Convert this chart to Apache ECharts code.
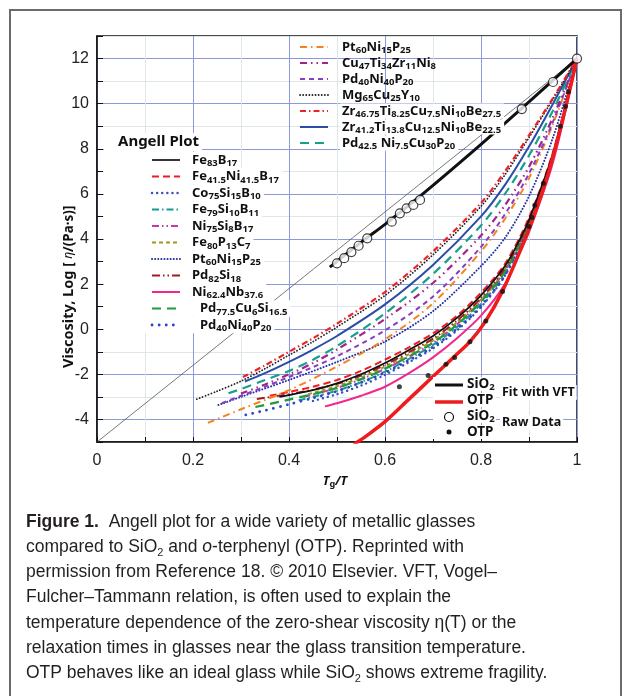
<!DOCTYPE html>
<html><head><meta charset="utf-8">
<script src="https://cdn.jsdelivr.net/npm/echarts@6/dist/echarts.min.js"></script>
<style>html,body{margin:0;padding:0;background:#fff;}#c{width:630px;height:696px;}</style>
</head><body><div id="c"></div>
<script>
// ---------- tick labels ----------
const xTickLabels = ['0','0.2','0.4','0.6','0.8','1'];
const yTickLabels = ['-4','-2','0','2','4','6','8','10','12'];

// ---------- data (x = Tg/T, y = log viscosity) ----------
const arrhenius = [[0,-5],[1,12]];
// lower (fragile) group
const fe83b17 = [[0.38,-3.0],[0.45,-2.7],[0.5,-2.4],[0.55,-2.0],[0.6,-1.5],[0.65,-0.92],[0.7,-0.3],[0.75,0.5],[0.8,1.5],[0.85,2.8],[0.88,3.95],[0.9,4.85],[0.95,7.8],[1,12]];
const fe415 = [[0.36,-2.95],[0.4,-2.78],[0.45,-2.55],[0.5,-2.25],[0.55,-1.85],[0.6,-1.35],[0.65,-0.8],[0.7,-0.18],[0.75,0.6],[0.8,1.62],[0.85,2.9],[0.9,4.95],[0.95,7.85],[1,12]];
const co75 = [[0.45,-3.18],[0.5,-2.88],[0.55,-2.5],[0.6,-2.02],[0.65,-1.46],[0.7,-0.85],[0.75,-0.05],[0.8,0.98],[0.85,2.38],[0.9,4.56],[0.95,7.6],[1,12]];
const fe79 = [[0.42,-3.15],[0.45,-3.0],[0.5,-2.72],[0.55,-2.35],[0.6,-1.88],[0.65,-1.32],[0.7,-0.7],[0.75,0.1],[0.8,1.12],[0.85,2.48],[0.9,4.62],[0.95,7.66],[1,12]];
const ni75 = [[0.43,-3.0],[0.45,-2.9],[0.5,-2.6],[0.55,-2.22],[0.6,-1.76],[0.65,-1.22],[0.7,-0.6],[0.75,0.22],[0.8,1.25],[0.85,2.6],[0.9,4.72],[0.95,7.72],[1,12]];
const fe80 = [[0.44,-2.88],[0.5,-2.52],[0.55,-2.14],[0.6,-1.66],[0.65,-1.1],[0.7,-0.5],[0.75,0.3],[0.8,1.32],[0.85,2.66],[0.9,4.76],[0.95,7.76],[1,12]];
const pd82 = [[0.333,-3.09],[0.4,-2.88],[0.45,-2.68],[0.5,-2.42],[0.55,-2.05],[0.6,-1.58],[0.65,-1.02],[0.7,-0.42],[0.75,0.38],[0.8,1.38],[0.85,2.7],[0.9,4.78],[0.95,7.75],[1,12]];
const ni624 = [[0.475,-3.42],[0.5,-3.28],[0.55,-2.95],[0.6,-2.55],[0.65,-1.95],[0.7,-1.25],[0.75,-0.4],[0.8,0.6],[0.85,2.0],[0.88,3.35],[0.9,4.3],[0.95,7.4],[1,12]];
const pd775 = [[0.33,-3.45],[0.4,-3.12],[0.45,-2.88],[0.5,-2.6],[0.55,-2.22],[0.6,-1.75],[0.65,-1.2],[0.7,-0.6],[0.75,0.2],[0.8,1.22],[0.85,2.55],[0.9,4.68],[0.95,7.7],[1,12]];
const pd40a = [[0.31,-3.8],[0.35,-3.6],[0.4,-3.33],[0.45,-3.05],[0.5,-2.75],[0.55,-2.37],[0.6,-1.92],[0.65,-1.38],[0.7,-0.78],[0.75,0.02],[0.8,1.02],[0.85,2.4],[0.9,4.58],[0.95,7.62],[1,12]];
// middle group
const pt60a = [[0.253,-3.36],[0.3,-3.0],[0.4,-2.25],[0.5,-1.45],[0.6,-0.55],[0.7,0.8],[0.8,2.8],[0.85,4.05],[0.9,5.9],[0.95,8.5],[1,12]];
const pt60t = [[0.231,-4.15],[0.3,-3.55],[0.4,-2.7],[0.5,-1.65],[0.6,-0.45],[0.7,1.15],[0.8,3.45],[0.85,4.9],[0.9,6.7],[0.95,9.1],[1,12]];
const pd40t = [[0.26,-3.28],[0.3,-2.95],[0.35,-2.55],[0.4,-2.12],[0.45,-1.68],[0.5,-1.2],[0.6,-0.05],[0.7,1.45],[0.8,3.65],[0.85,5.1],[0.9,6.9],[0.95,9.2],[1,12]];
const cu47 = [[0.3,-2.85],[0.35,-2.45],[0.4,-2.0],[0.45,-1.5],[0.5,-0.9],[0.6,0.45],[0.7,2.05],[0.8,4.15],[0.85,5.5],[0.9,7.2],[0.95,9.4],[1,12]];
// upper (strong) group
const pd425 = [[0.274,-2.84],[0.3,-2.65],[0.35,-2.25],[0.4,-1.85],[0.45,-1.35],[0.5,-0.75],[0.6,0.7],[0.7,2.45],[0.8,4.6],[0.85,6.0],[0.9,7.7],[0.95,9.7],[1,12]];
const zr412 = [[0.308,-2.32],[0.35,-1.95],[0.4,-1.45],[0.45,-0.9],[0.5,-0.3],[0.6,1.1],[0.7,2.85],[0.8,5.0],[0.85,6.4],[0.9,8.1],[0.95,10.0],[1,12]];
const mg65 = [[0.208,-3.1],[0.25,-2.75],[0.3,-2.3],[0.35,-1.75],[0.4,-1.15],[0.45,-0.55],[0.5,0.1],[0.6,1.5],[0.7,3.3],[0.8,5.45],[0.85,6.85],[0.9,8.5],[0.95,10.2],[1,12]];
const zr4675 = [[0.304,-2.12],[0.35,-1.6],[0.4,-1.0],[0.45,-0.4],[0.5,0.25],[0.6,1.65],[0.7,3.45],[0.8,5.6],[0.85,7.0],[0.9,8.6],[0.95,10.25],[1,12]];
// reference liquids
const sio2Fit = [[0.485,2.75],[0.55,3.85],[0.6,4.65],[0.65,5.5],[0.7,6.38],[0.8,8.2],[0.9,10.08],[1,12]];
const otpFit = [[0.535,-5.1],[0.56,-4.75],[0.6,-4.1],[0.65,-3.1],[0.7,-2.1],[0.745,-1.2],[0.777,-0.55],[0.81,0.37],[0.845,1.7],[0.88,3.4],[0.91,5.0],[0.94,6.9],[0.97,9.3],[1,12]];
const sio2Raw = [[0.5,2.92],[0.515,3.15],[0.53,3.42],[0.545,3.7],[0.563,4.03],[0.614,4.77],[0.631,5.14],[0.645,5.36],[0.659,5.51],[0.673,5.73],[0.885,9.76],[0.95,10.96],[1.0,12.0]];
const otpRaw = [[0.63,-2.55],[0.69,-2.05],[0.727,-1.55],[0.745,-1.25],[0.777,-0.55],[0.81,0.37],[0.845,1.67],[0.9,4.55],[0.906,4.95],[0.912,5.5],[0.93,6.47],[0.965,9.0],[0.976,9.87],[0.982,10.53]];

// ---------- legend labels (_{..} = subscript) ----------
const angellLabels = ['Fe_{83}B_{17}','Fe_{41.5}Ni_{41.5}B_{17}','Co_{75}Si_{15}B_{10}','Fe_{79}Si_{10}B_{11}','Ni_{75}Si_{8}B_{17}','Fe_{80}P_{13}C_{7}','Pt_{60}Ni_{15}P_{25}','Pd_{82}Si_{18}','Ni_{62.4}Nb_{37.6}','Pd_{77.5}Cu_{6}Si_{16.5}','Pd_{40}Ni_{40}P_{20}'];
const topLabels = ['Pt_{60}Ni_{15}P_{25}','Cu_{47}Ti_{34}Zr_{11}Ni_{8}','Pd_{40}Ni_{40}P_{20}','Mg_{65}Cu_{25}Y_{10}','Zr_{46.75}Ti_{8.25}Cu_{7.5}Ni_{10}Be_{27.5}','Zr_{41.2}Ti_{13.8}Cu_{12.5}Ni_{10}Be_{22.5}','Pd_{42.5} Ni_{7.5}Cu_{30}P_{20}'];

const captionLines = [
  '{b|Figure 1.}{r|  Angell plot for a wide variety of metallic glasses}',
  '{r|compared to SiO}{sb|2}{r| and }{i|o}{r|-terphenyl (OTP). Reprinted with}',
  '{r|permission from Reference 18. © 2010 Elsevier. VFT, Vogel–}',
  '{r|Fulcher–Tammann relation, is often used to explain the}',
  '{r|temperature dependence of the zero-shear viscosity η(T) or the}',
  '{r|relaxation times in glasses near the glass transition temperature.}',
  '{r|OTP behaves like an ideal glass while SiO}{sb|2}{r| shows extreme fragility.}'
];

// ---------- styles ----------
const ST = {
  fe83b17:{color:'#111111', width:1.7, dash:'solid'},
  fe415:{color:'#f01c24', width:2, dash:[7,4]},
  co75:{color:'#3a4fc0', width:2.4, dash:[0.1,5], cap:'round'},
  fe79:{color:'#139c9a', width:2, dash:[7,3,1.5,3]},
  ni75:{color:'#c43aae', width:2, dash:[7,3,1.5,3,1.5,3]},
  fe80:{color:'#a09a1c', width:2, dash:[4,3]},
  pt60a:{color:'#26329e', width:2, dash:[0.1,3], cap:'round'},
  pd82:{color:'#a01c22', width:2, dash:[8,3,1.5,3,1.5,3]},
  ni624:{color:'#f0288c', width:2, dash:'solid'},
  pd775:{color:'#1f9a3c', width:2.2, dash:[9,6]},
  pd40a:{color:'#3046c4', width:2.8, dash:[0.1,7], cap:'round'},
  pt60t:{color:'#f5821f', width:2, dash:[7,4,1.5,4]},
  cu47:{color:'#a0248c', width:2.2, dash:[7,4,1.5,4,1.5,4]},
  pd40t:{color:'#8a3cc4', width:2, dash:[5,4]},
  mg65:{color:'#222222', width:1.8, dash:[0.1,3], cap:'round'},
  zr4675:{color:'#ec2228', width:2.2, dash:[6,3,1.5,3]},
  zr412:{color:'#2c4ca6', width:2, dash:'solid'},
  pd425:{color:'#16a08a', width:2.2, dash:[9,6]}
};
const curveList = [
  ['fe79',fe79],['ni75',ni75],['fe80',fe80],['co75',co75],['pd40a',pd40a],['pd775',pd775],['pd82',pd82],['fe415',fe415],['ni624',ni624],['fe83b17',fe83b17],
  ['pt60a',pt60a],['pt60t',pt60t],['pd40t',pd40t],['cu47',cu47],
  ['pd425',pd425],['zr412',zr412],['mg65',mg65],['zr4675',zr4675]
];
const angellKeys = ['fe83b17','fe415','co75','fe79','ni75','fe80','pt60a','pd82','ni624','pd775','pd40a'];
const topKeys = ['pt60t','cu47','pd40t','mg65','zr4675','zr412','pd425'];

const MAJOR = '#8b98dc', MINOR = '#dbe7e8';
const LF = 'Noto Sans', MS = 13, SS = 9.5;

// ---------- helpers ----------
const ctx = document.createElement('canvas').getContext('2d');
function tokens(label){
  const out = []; const re = /_\{([^}]*)\}/g; let last = 0, m;
  while ((m = re.exec(label))) { if (m.index > last) out.push({t:label.slice(last, m.index), s:false}); out.push({t:m[1], s:true}); last = re.lastIndex; }
  if (last < label.length) out.push({t:label.slice(last), s:false});
  return out;
}
function richStr(label){ return tokens(label).map(k => '{' + (k.s ? 's' : 'm') + '|' + k.t + '}').join(''); }
function textW(label){
  let w = 0;
  tokens(label).forEach(k => { ctx.font = 'bold ' + (k.s ? SS : MS) + 'px "' + LF + '"'; w += ctx.measureText(k.t).width; });
  return w;
}
const legRich = {
  m:{fontFamily:LF, fontWeight:'bold', fontSize:MS, lineHeight:17, verticalAlign:'middle', fill:'#111'},
  s:{fontFamily:LF, fontWeight:'bold', fontSize:SS, lineHeight:9, verticalAlign:'bottom', fill:'#111'}
};
function symLine(x1, x2, y, st){
  return {type:'line', z:60, shape:{x1:x1, y1:y, x2:x2, y2:y},
    style:{stroke:st.color, lineWidth:st.width, lineDash: st.dash === 'solid' ? null : st.dash, lineCap: st.cap || 'butt'}};
}
function legText(x, y, label){
  return {type:'text', z:61, x:x, y:y, style:{text:richStr(label), rich:legRich, align:'left', verticalAlign:'middle'}};
}
function whiteRect(x, y, w, h){ return {type:'rect', z:50, shape:{x:x, y:y, width:w, height:h}, style:{fill:'#fff'}}; }

// ---------- graphics ----------
const G = [];
G.push({type:'rect', z:1, shape:{x:10, y:10, width:611, height:700}, style:{fill:'none', stroke:'#6b6b6b', lineWidth:2}});
// Angell legend
ctx.font = 'bold 15px "' + LF + '"';
const titleW = ctx.measureText('Angell Plot').width;
G.push(whiteRect(104, 133, 118 + titleW + 3 - 104, 18));
G.push({type:'text', z:61, x:118, y:142, style:{text:'Angell Plot', fontFamily:LF, fontWeight:'bold', fontSize:15, fill:'#111', align:'left', verticalAlign:'middle'}});
angellLabels.forEach((lab, i) => {
  const y = 160 + 16.5 * i, tx = i < 9 ? 192 : 200;
  G.push(whiteRect(104, y - 8.3, tx + textW(lab) + 3 - 104, 16.6));
  G.push(symLine(152, 180, y, ST[angellKeys[i]]));
  G.push(legText(tx, y, lab));
});
// top legend
topLabels.forEach((lab, i) => {
  const y = 47 + 16 * i;
  if (i >= 4) G.push(whiteRect(340, y - 7.5, textW(lab) + 5, 15));
  G.push(symLine(300, 328, y, ST[topKeys[i]]));
  G.push(legText(342, y, lab));
});
// reference-liquid legend
const smRich = {
  m:{fontFamily:LF, fontWeight:'bold', fontSize:13.5, lineHeight:17, verticalAlign:'middle', fill:'#111'},
  s:{fontFamily:LF, fontWeight:'bold', fontSize:9.5, lineHeight:9, verticalAlign:'bottom', fill:'#111'}
};
G.push(whiteRect(433, 377, 34, 62));
[['SiO_{2}',384],['OTP',400],['SiO_{2}',416],['OTP',432]].forEach(([lab, y]) => {
  G.push(whiteRect(466, y - 7, 30, 14));
  G.push({type:'text', z:61, x:467, y:y, style:{text:richStr(lab), rich:smRich, align:'left', verticalAlign:'middle'}});
});
G.push(symLine(435, 463, 385, {color:'#111', width:3, dash:'solid'}));
G.push(symLine(435, 463, 402, {color:'#ee1c1c', width:3.5, dash:'solid'}));
G.push({type:'circle', z:62, shape:{cx:449, cy:417, r:4.5}, style:{fill:'#fff', stroke:'#111', lineWidth:1.2}});
G.push({type:'circle', z:62, shape:{cx:449, cy:432, r:2.5}, style:{fill:'#111'}});
ctx.font = 'bold 12.5px "' + LF + '"';
G.push(whiteRect(500, 385, ctx.measureText('Fit with VFT').width + 4, 15));
G.push(whiteRect(500, 415, ctx.measureText('Raw Data').width + 4, 15));
G.push({type:'text', z:61, x:502, y:392, style:{text:'Fit with VFT', fontFamily:LF, fontWeight:'bold', fontSize:12.5, fill:'#111', align:'left', verticalAlign:'middle'}});
G.push({type:'text', z:61, x:502, y:422, style:{text:'Raw Data', fontFamily:LF, fontWeight:'bold', fontSize:12.5, fill:'#111', align:'left', verticalAlign:'middle'}});
// axis titles
G.push({type:'text', z:61, x:69, y:368, rotation:Math.PI / 2,
  style:{text:'{a|Viscosity, Log }{c|[ }{e|η}{c|/(Pa·s)]}', align:'left', verticalAlign:'middle',
    rich:{a:{fontFamily:LF, fontWeight:'bold', fontSize:14.5, fill:'#111'}, c:{fontFamily:LF, fontWeight:'bold', fontSize:13.5, fill:'#111'}, e:{fontFamily:LF, fontStyle:'italic', fontSize:12, fill:'#111'}}}});
G.push({type:'text', z:61, x:335, y:481,
  style:{text:'{t|T}{g|g}{t|/}{t|T}', align:'center', verticalAlign:'middle',
    rich:{t:{fontFamily:LF, fontWeight:'bold', fontStyle:'italic', fontSize:12.5, lineHeight:16, verticalAlign:'middle', fill:'#111'},
          g:{fontFamily:LF, fontWeight:'bold', fontSize:9, lineHeight:8, verticalAlign:'bottom', fill:'#111'}}}});
// caption
const CF = 'Liberation Sans', CS = 17.5, CC = '#231f20';
const capRich = {
  b:{fontFamily:CF, fontWeight:'bold', fontSize:CS, lineHeight:22, verticalAlign:'middle', fill:CC},
  r:{fontFamily:CF, fontSize:CS, lineHeight:22, verticalAlign:'middle', fill:CC},
  i:{fontFamily:CF, fontStyle:'italic', fontSize:CS, lineHeight:22, verticalAlign:'middle', fill:CC},
  sb:{fontFamily:CF, fontSize:11, lineHeight:11, verticalAlign:'bottom', fill:CC}
};
captionLines.forEach((t, i) => {
  G.push({type:'text', z:61, x:26, y:522 + 25.2 * i, style:{text:t, rich:capRich, align:'left', verticalAlign:'middle'}});
});

// ---------- series ----------
const series = [];
series.push({type:'line', name:'Arrhenius', data:arrhenius, symbol:'none', z:2, lineStyle:{color:'#555', width:0.8}});
curveList.forEach(([k, d]) => {
  const st = ST[k];
  series.push({type:'line', name:k, data:d, symbol:'none', smooth:0.3, z:3,
    lineStyle:{color:st.color, width:st.width, type:st.dash, cap:st.cap || 'butt'}});
});
series.push({type:'line', name:'SiO2 fit', data:sio2Fit, symbol:'none', smooth:0.3, z:4, lineStyle:{color:'#111', width:3}});
series.push({type:'line', name:'OTP fit', data:otpFit, symbol:'none', smooth:0.3, z:4, lineStyle:{color:'#ee1c1c', width:3.5}});
series.push({type:'scatter', name:'SiO2 raw', data:sio2Raw, symbol:'circle', symbolSize:9, z:5, itemStyle:{color:'#fff', borderColor:'#111', borderWidth:1.2}});
series.push({type:'scatter', name:'OTP raw', data:otpRaw, symbol:'circle', symbolSize:5, z:5, itemStyle:{color:'#111'}});

const chart = echarts.init(document.getElementById('c'), null, {renderer:'canvas'});
chart.setOption({
  animation:false,
  backgroundColor:'#fff',
  grid:{left:97, top:36, width:480, height:406, show:true, borderColor:'#111', borderWidth:1.5, backgroundColor:'transparent', outerBoundsMode:'none', containLabel:false},
  xAxis:{type:'value', min:0, max:1, interval:0.1,
    axisLine:{show:true, onZero:false, lineStyle:{color:'#111', width:1.5}},
    axisTick:{show:true, inside:true, length:5, lineStyle:{color:'#111', width:1}},
    axisLabel:{color:'#222', fontSize:16, fontFamily:'Liberation Sans', margin:11,
      formatter:v => { const s = String(Math.round(v * 10) / 10); return xTickLabels.includes(s) ? s : ''; }},
    splitLine:{show:true, lineStyle:{color:[MAJOR, MINOR], width:1}}},
  yAxis:{type:'value', min:-5, max:13, interval:1,
    axisLine:{show:true, onZero:false, lineStyle:{color:'#111', width:1.5}},
    axisTick:{show:true, inside:true, length:6, lineStyle:{color:'#111', width:1}},
    axisLabel:{color:'#222', fontSize:16, fontFamily:'Liberation Sans', margin:8,
      formatter:v => { const s = String(Math.round(v)); return yTickLabels.includes(s) ? s : ''; }},
    splitLine:{show:true, lineStyle:{color:[MINOR, MAJOR], width:1}}},
  series:series,
  graphic:{elements:G}
});
</script></body></html>
